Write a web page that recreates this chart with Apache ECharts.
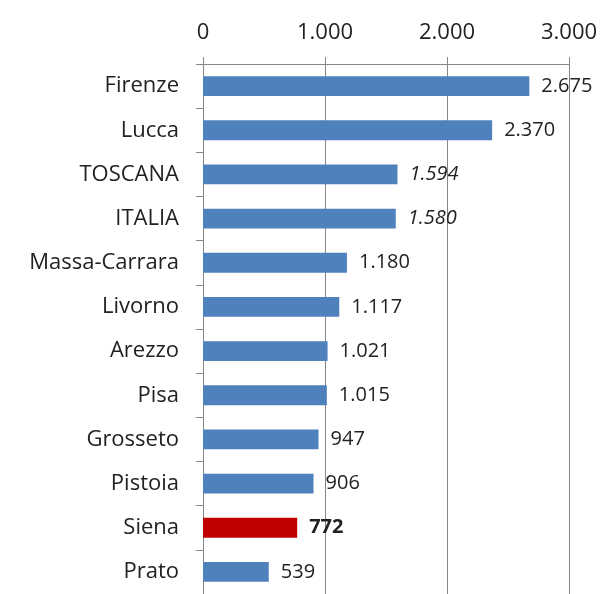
<!DOCTYPE html>
<html><head><meta charset="utf-8">
<script src="https://cdn.jsdelivr.net/npm/echarts@6/dist/echarts.min.js"></script>
<style>html,body{margin:0;padding:0;background:#fff}#c{width:607px;height:594px}</style>
</head><body><div id="c"></div>
<script>
const categories = ["Firenze","Lucca","TOSCANA","ITALIA","Massa-Carrara","Livorno","Arezzo","Pisa","Grosseto","Pistoia","Siena","Prato"];
const values = [2675,2370,1594,1580,1180,1117,1021,1015,947,906,772,539];
const tickLabels = ["0","1.000","2.000","3.000"];
const italicCats = ["TOSCANA","ITALIA"];
const boldCats = ["Siena"];
const highlightCats = ["Siena"];

function fmt(v){return String(v).replace(/\B(?=(\d{3})+(?!\d))/g,'.');}

const data = categories.map((c,i)=>({
  value: values[i],
  itemStyle:{color: highlightCats.includes(c) ? '#C00000' : '#4F81BD'},
  label:{
    fontStyle: italicCats.includes(c) ? 'italic' : 'normal',
    fontWeight: boldCats.includes(c) ? 'bold' : 'normal'
  }
}));

const chart = echarts.init(document.getElementById('c'));
chart.setOption({
  animation:false,
  grid:{left:203,top:64,width:366,height:534,containLabel:false},
  xAxis:{
    type:'value', position:'top', min:0, max:3000, interval:1000,
    axisLine:{show:true,lineStyle:{color:'#868686',width:1}},
    axisTick:{show:true,length:7,inside:false,lineStyle:{color:'#868686'}},
    splitLine:{show:true,lineStyle:{color:'#868686',width:1}},
    axisLabel:{margin:20,fontSize:22,color:'#222',fontFamily:'Open Sans',
      formatter:(v)=>tickLabels[Math.round(v/1000)]}
  },
  yAxis:{
    type:'category', inverse:true, data:categories,
    axisLine:{show:true,lineStyle:{color:'#868686',width:1}},
    axisTick:{show:true,length:7,lineStyle:{color:'#868686'}},
    axisLabel:{margin:24,fontSize:22,color:'#222',fontFamily:'Open Sans'}
  },
  series:[{
    type:'bar', data:data, barWidth:'45%',
    label:{show:true,position:'right',distance:12,fontSize:20,color:'#222',fontFamily:'Open Sans',
      formatter:(p)=>fmt(p.value)}
  }]
});
</script></body></html>
